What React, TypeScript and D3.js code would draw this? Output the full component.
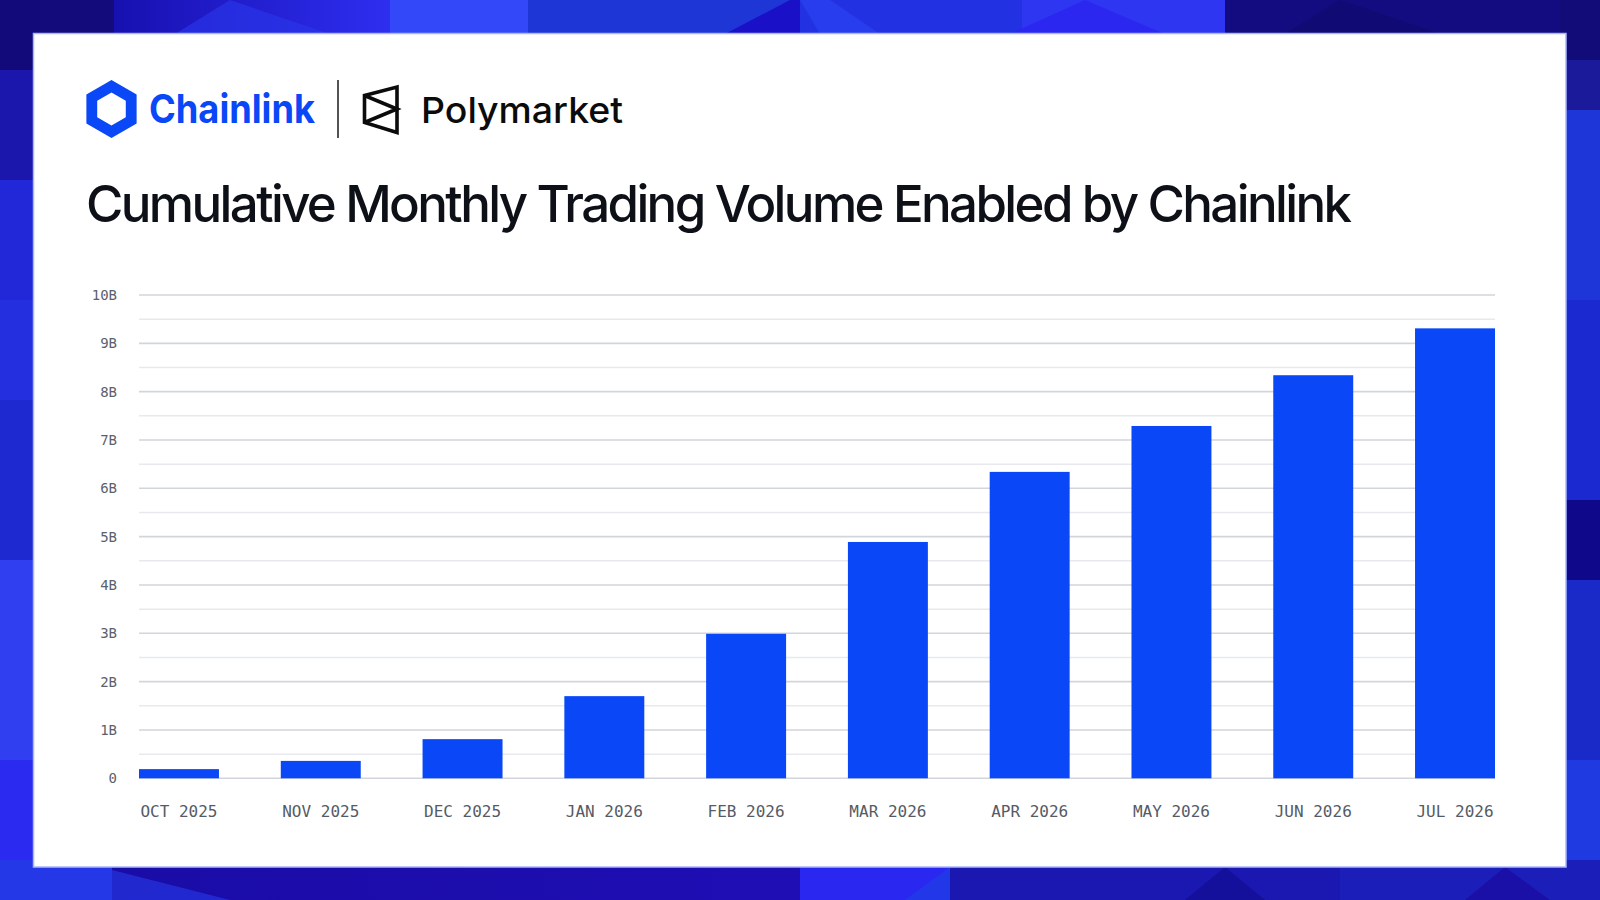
import React from "react";
import * as d3 from "d3";

const months = [
  "OCT 2025",
  "NOV 2025",
  "DEC 2025",
  "JAN 2026",
  "FEB 2026",
  "MAR 2026",
  "APR 2026",
  "MAY 2026",
  "JUN 2026",
  "JUL 2026",
];
const volumeB = [0.19, 0.36, 0.81, 1.7, 2.99, 4.89, 6.34, 7.29, 8.34, 9.31];
const majorTicks = [0, 1, 2, 3, 4, 5, 6, 7, 8, 9, 10];
const minorTicks = [0.5, 1.5, 2.5, 3.5, 4.5, 5.5, 6.5, 7.5, 8.5, 9.5];
const tickLabel = (v: number) => (v === 0 ? "0" : `${v}B`);

const TITLE = "Cumulative Monthly Trading Volume Enabled by Chainlink";
const BLUE = "#0a48f7";
const MONO = "'DejaVu Sans Mono', 'Liberation Mono', monospace";
const SANS = "Inter, 'Noto Sans', sans-serif";

function hexPath(cx: number, cy: number, r: number) {
  const pts = d3.range(6).map((k) => {
    const a = ((-90 + 60 * k) * Math.PI) / 180;
    return [cx + r * Math.cos(a), cy + r * Math.sin(a)];
  });
  return "M" + pts.map((p) => p.join(",")).join("L") + "Z";
}

function Background() {
  return (
    <g>
      <defs>
        <linearGradient id="bgG" x1="0" y1="0" x2="1" y2="1">
          <stop offset="0" stopColor="#140c86" />
          <stop offset="0.5" stopColor="#2230dc" />
          <stop offset="1" stopColor="#1a16b0" />
        </linearGradient>
        <linearGradient id="tA" x1="0" y1="0" x2="1" y2="0">
          <stop offset="0" stopColor="#1710b0" />
          <stop offset="1" stopColor="#2e2ef0" />
        </linearGradient>
        <linearGradient id="bA" x1="0" y1="0" x2="1" y2="0">
          <stop offset="0" stopColor="#1a0ca6" />
          <stop offset="1" stopColor="#1e0eb4" />
        </linearGradient>
      </defs>
      <rect x={0} y={0} width={1600} height={900} fill="url(#bgG)" />
      {/* top strip */}
      <rect x={0} y={0} width={114} height={40} fill="#130a7c" />
      <rect x={114} y={0} width={276} height={40} fill="url(#tA)" />
      <polygon points="175,34 230,0 330,34" fill="#2a34e8" opacity={0.7} />
      <rect x={390} y={0} width={138} height={40} fill="#3348f8" />
      <rect x={528} y={0} width={272} height={40} fill="#1e36d6" />
      <polygon points="725,34 790,0 800,0 800,34" fill="#1a10c8" />
      <rect x={800} y={0} width={222} height={40} fill="#2232e2" />
      <polygon points="800,0 830,0 880,34 820,34" fill="#2a40f0" opacity={0.8} />
      <rect x={1022} y={0} width={203} height={40} fill="#2e36f2" />
      <polygon points="1010,34 1085,0 1165,34" fill="#2b24f0" opacity={0.8} />
      <rect x={1225} y={0} width={375} height={40} fill="#120c80" />
      <polygon points="1285,34 1340,0 1440,34" fill="#0f0a70" opacity={0.8} />
      {/* left strip */}
      <rect x={0} y={0} width={40} height={70} fill="#12097a" />
      <rect x={0} y={70} width={40} height={110} fill="#1b16ac" />
      <rect x={0} y={180} width={40} height={120} fill="#2228d8" />
      <rect x={0} y={300} width={40} height={100} fill="#2430e0" />
      <rect x={0} y={400} width={40} height={160} fill="#1e2ad0" />
      <rect x={0} y={560} width={40} height={200} fill="#3040f0" />
      <rect x={0} y={760} width={40} height={140} fill="#2a2af0" />
      {/* right strip */}
      <rect x={1560} y={0} width={40} height={60} fill="#120c78" />
      <rect x={1560} y={60} width={40} height={50} fill="#1a1a9a" />
      <rect x={1560} y={110} width={40} height={190} fill="#1e35d8" />
      <rect x={1560} y={300} width={40} height={200} fill="#1a2ad0" />
      <rect x={1560} y={500} width={40} height={80} fill="#10088a" />
      <rect x={1560} y={580} width={40} height={180} fill="#1a2ac8" />
      <rect x={1560} y={760} width={40} height={140} fill="#1e3ae0" />
      {/* bottom strip */}
      <rect x={0} y={860} width={112} height={40} fill="#2438e8" />
      <rect x={112} y={860} width={688} height={40} fill="url(#bA)" />
      <polygon points="112,870 112,900 230,900" fill="#2535e0" opacity={0.7} />
      <rect x={800} y={860} width={150} height={40} fill="#2a28f0" />
      <polygon points="905,900 950,867 990,900" fill="#2238e8" />
      <rect x={950} y={860} width={390} height={40} fill="#1a18b0" />
      <polygon points="1185,900 1225,867 1265,900" fill="#14109c" />
      <rect x={1340} y={860} width={260} height={40} fill="#1c1eba" />
      <polygon points="1465,900 1505,867 1550,900" fill="#1a10a8" />
    </g>
  );
}

function Logos() {
  const hexOuter = hexPath(111.5, 109, 29);
  const hexInner = hexPath(111.5, 109, 16.5);
  return (
    <g>
      <path d={hexOuter + hexInner} fill={BLUE} fillRule="evenodd" />
      <text
        x={149}
        y={123}
        fontFamily={SANS}
        fontWeight={700}
        fontSize={40}
        fill={BLUE}
        textLength={166}
        lengthAdjust="spacingAndGlyphs"
      >
        Chainlink
      </text>
      <line x1={338} x2={338} y1={80} y2={138} stroke="#1a1a1a" strokeWidth={1.5} />
      <g fill="none" stroke="#0b0b0b" strokeWidth={3.6} strokeLinejoin="miter">
        <polygon points="364.5,95.5 397,87 397,132.5 364.5,122.5" />
        <polyline points="364.5,95.5 397,109 364.5,122.5" />
      </g>
      <text
        x={421}
        y={123}
        fontFamily={SANS}
        fontWeight={500}
        fontSize={36}
        fill="#0b0b0b"
        textLength={202}
        lengthAdjust="spacingAndGlyphs"
      >
        Polymarket
      </text>
    </g>
  );
}

export default function App() {
  const width = 1600;
  const height = 900;
  const x = d3
    .scaleBand<string>()
    .domain(months)
    .range([139, 1495])
    .paddingInner(0.436)
    .paddingOuter(0);
  const y = d3.scaleLinear().domain([0, 10]).range([778.3, 295]);
  const [gx0, gx1] = x.range();

  return (
    <div style={{ position: "fixed", left: 0, top: 0 }}>
      <svg width={width} height={height} style={{ display: "block" }}>
        <Background />
        <rect
          x={33.5}
          y={33.5}
          width={1532.5}
          height={833.5}
          fill="#ffffff"
          stroke="#a9b6ff"
          strokeWidth={1.5}
        />
        <Logos />
        <text
          x={86}
          y={221.5}
          fontFamily={SANS}
          fontWeight={500}
          fontSize={51}
          fill="#0e1018"
          textLength={1266}
          lengthAdjust="spacing"
        >
          {TITLE}
        </text>

        {minorTicks.map((t) => (
          <line
            key={"mn" + t}
            x1={gx0}
            x2={gx1}
            y1={y(t)}
            y2={y(t)}
            stroke="#e7e9ee"
            strokeWidth={1.5}
          />
        ))}
        {majorTicks.map((t) => (
          <line
            key={"mj" + t}
            x1={gx0}
            x2={gx1}
            y1={y(t)}
            y2={y(t)}
            stroke="#d2d5db"
            strokeWidth={1.6}
          />
        ))}
        {majorTicks.map((t) => (
          <text
            key={"yl" + t}
            x={117}
            y={y(t)}
            dy="0.35em"
            textAnchor="end"
            fontFamily={MONO}
            fontSize={14}
            fill="#5b616c"
          >
            {tickLabel(t)}
          </text>
        ))}

        {months.map((m, i) => (
          <rect
            key={m}
            x={x(m)}
            y={y(volumeB[i])}
            width={x.bandwidth()}
            height={y(0) - y(volumeB[i])}
            fill={BLUE}
          />
        ))}

        {months.map((m) => (
          <text
            key={"xl" + m}
            x={(x(m) as number) + x.bandwidth() / 2}
            y={816.5}
            textAnchor="middle"
            fontFamily={MONO}
            fontSize={16}
            fill="#555b66"
          >
            {m}
          </text>
        ))}
      </svg>
    </div>
  );
}
